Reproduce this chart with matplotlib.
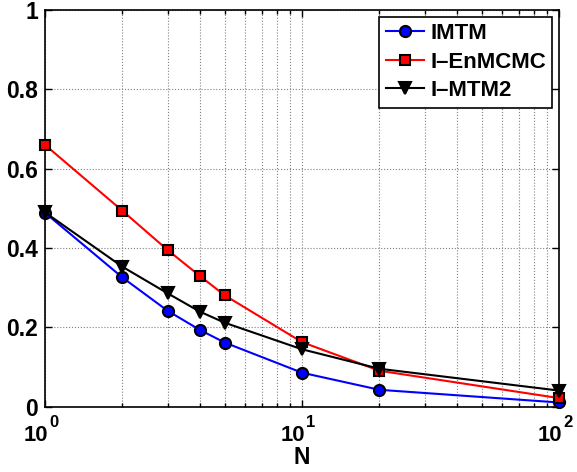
import matplotlib
matplotlib.use("Agg")
import matplotlib.pyplot as plt
from matplotlib.ticker import FixedLocator, LogLocator, NullFormatter

plt.rcParams['font.family'] = 'Liberation Sans'
plt.rcParams['font.weight'] = 'bold'

N = [1, 2, 3, 4, 5, 10, 20, 100]
imtm = [0.489, 0.326, 0.242, 0.194, 0.162, 0.086, 0.043, 0.011]
ienmcmc = [0.660, 0.494, 0.395, 0.330, 0.281, 0.163, 0.091, 0.022]
imtm2 = [0.490, 0.353, 0.286, 0.240, 0.212, 0.145, 0.096, 0.041]

x_ticks = [1, 10, 100]
x_exponents = ['0', '1', '2']
y_ticks = [0, 0.2, 0.4, 0.6, 0.8, 1]
y_ticklabels = ['0', '0.2', '0.4', '0.6', '0.8', '1']

fig = plt.figure(figsize=(5.77, 4.72), dpi=100)
ax = fig.add_axes([0.078, 0.138, 0.891, 0.841])

ax.plot(N, imtm, '-o', color='blue', lw=1.5, ms=8, mfc='blue', mec='black', mew=1.5,
        label='IMTM', clip_on=False, zorder=3)
ax.plot(N, ienmcmc, '-s', color='red', lw=1.5, ms=6.5, mfc='red', mec='black', mew=1.5,
        label='I\u2013EnMCMC', clip_on=False, zorder=3)
ax.plot(N, imtm2, '-v', color='black', lw=1.5, ms=9, mfc='black', mec='black', mew=1.5,
        label='I\u2013MTM2', clip_on=False, zorder=3)

ax.set_xscale('log')
ax.set_xlim(1, 100)
ax.set_ylim(0, 1)
ax.xaxis.set_major_locator(FixedLocator(x_ticks))
ax.xaxis.set_major_formatter(NullFormatter())
ax.xaxis.set_minor_locator(LogLocator(base=10, subs=range(2, 10)))
ax.xaxis.set_minor_formatter(NullFormatter())
ax.set_yticks(y_ticks)
ax.set_yticklabels(y_ticklabels)

# MATLAB style 10^k labels: big base, raised exponent
for t, e in zip(x_ticks, x_exponents):
    ax.annotate('10', xy=(t, 0), xycoords=('data', 'axes fraction'),
                xytext=(3, -34), textcoords='offset pixels',
                ha='right', va='baseline', fontsize=15.8, fontweight='bold',
                annotation_clip=False)
    ax.annotate(e, xy=(t, 0), xycoords=('data', 'axes fraction'),
                xytext=(4, -20), textcoords='offset pixels',
                ha='left', va='baseline', fontsize=12, fontweight='bold',
                annotation_clip=False)

ax.tick_params(which='both', direction='in', top=True, right=True, width=1)
ax.tick_params(axis='y', labelsize=16.5, pad=5)
ax.tick_params(which='major', length=5)
ax.tick_params(which='minor', length=3)
ax.grid(True, which='major', linestyle=':', color='0.5', lw=0.8)
ax.grid(True, which='minor', axis='x', linestyle=':', color='0.5', lw=0.8)
for s in ax.spines.values():
    s.set_linewidth(1.2)

ax.set_xlabel('N', fontsize=16.5, fontweight='bold', va='baseline')
ax.xaxis.set_label_coords(0.5, -57 / 397)

leg = ax.legend(loc='upper right', prop={'size': 16, 'weight': 'bold'}, frameon=True,
                fancybox=False, edgecolor='black', framealpha=1, borderaxespad=0.3,
                handlelength=1.75, handletextpad=0.25, labelspacing=0.33, borderpad=0.3)
leg.get_frame().set_linewidth(1.2)

fig.savefig('out.png', dpi=100)
